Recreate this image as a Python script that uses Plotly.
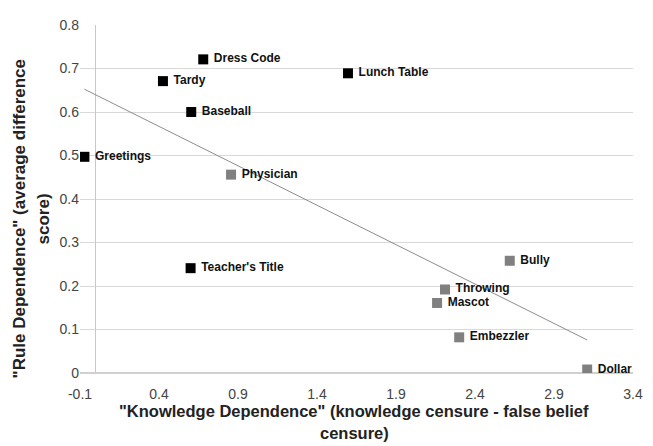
import numpy as np
import plotly.graph_objects as go

# series 1 (black squares)
rule_names = ["Dress Code", "Tardy", "Baseball", "Greetings", "Lunch Table", "Teacher's Title"]
rule_x = [0.68, 0.425, 0.604, -0.072, 1.596, 0.60]
rule_y = [0.721, 0.671, 0.600, 0.497, 0.689, 0.241]

# series 2 (grey squares)
know_names = ["Physician", "Bully", "Throwing", "Mascot", "Embezzler", "Dollar"]
know_x = [0.856, 2.62, 2.21, 2.16, 2.30, 3.11]
know_y = [0.456, 0.258, 0.192, 0.161, 0.082, 0.008]

x_ticks = [-0.1, 0.4, 0.9, 1.4, 1.9, 2.4, 2.9, 3.4]
y_ticks = [0, 0.1, 0.2, 0.3, 0.4, 0.5, 0.6, 0.7, 0.8]

x_title = ['"Knowledge Dependence" (knowledge censure - false belief', 'censure)']
y_title = ['"Rule Dependence" (average difference', 'score)']

FONT = "Arial, 'Liberation Sans', sans-serif"

# linear trendline over all points
all_x = np.array(rule_x + know_x)
all_y = np.array(rule_y + know_y)
slope, icpt = np.polyfit(all_x, all_y, 1)
tx = np.array([all_x.min(), all_x.max()])
ty = slope * tx + icpt

fig = go.Figure()

fig.add_trace(go.Scatter(
    x=tx, y=ty, mode='lines',
    line=dict(color='#8c8c8c', width=1),
    hoverinfo='skip', showlegend=False
))

fig.add_trace(go.Scatter(
    x=rule_x, y=rule_y, text=[' ' + n for n in rule_names],
    mode='markers+text', textposition='middle right',
    marker=dict(symbol='square', size=10, color='#000000'),
    textfont=dict(family=FONT, size=12, color='#111111', weight='bold'),
    showlegend=False
))

fig.add_trace(go.Scatter(
    x=know_x, y=know_y, text=[' ' + n for n in know_names],
    mode='markers+text', textposition='middle right',
    marker=dict(symbol='square', size=10, color='#808080'),
    textfont=dict(family=FONT, size=12, color='#111111', weight='bold'),
    showlegend=False
))

# axis titles as one annotation per line
title_font = dict(color='#222222', weight='bold')
annots = [
    dict(text=x_title[0], x=0.496, y=-0.1419, yanchor='bottom', font=dict(size=16.5, **title_font)),
    dict(text=x_title[1], x=0.496, y=-0.2039, yanchor='bottom', font=dict(size=16.5, **title_font)),
    dict(text=y_title[0], x=-0.1087, y=0.444, yanchor='middle', textangle=-90, font=dict(size=17, **title_font)),
    dict(text=y_title[1], x=-0.0652, y=0.444, yanchor='middle', textangle=-90, font=dict(size=17, **title_font)),
]
for a in annots:
    a.update(xref='paper', yref='paper', xanchor='center', showarrow=False)

# page body keeps an 8px margin, so the figure is 8px smaller than the window
fig.update_layout(
    width=645, height=438,
    margin=dict(l=72, r=20, t=9, b=73),
    plot_bgcolor='white', paper_bgcolor='white',
    font=dict(family=FONT),
    xaxis=dict(
        range=[-0.1, 3.4], tickvals=x_ticks, ticktext=[str(v) for v in x_ticks],
        showgrid=False, zeroline=True, zerolinecolor='#c8c8c8', zerolinewidth=1,
        tickfont=dict(size=14, color='#444444'), showline=False,
        ticklabelstandoff=11
    ),
    yaxis=dict(
        range=[0, 0.8], tickvals=y_ticks, ticktext=[f"{v:g}" for v in y_ticks],
        showgrid=True, gridcolor='#d9d9d9', gridwidth=1,
        zeroline=True, zerolinecolor='#d0d0d0',
        tickfont=dict(size=14, color='#444444'), showline=False
    ),
    annotations=annots
)

fig.write_html("out.html")
